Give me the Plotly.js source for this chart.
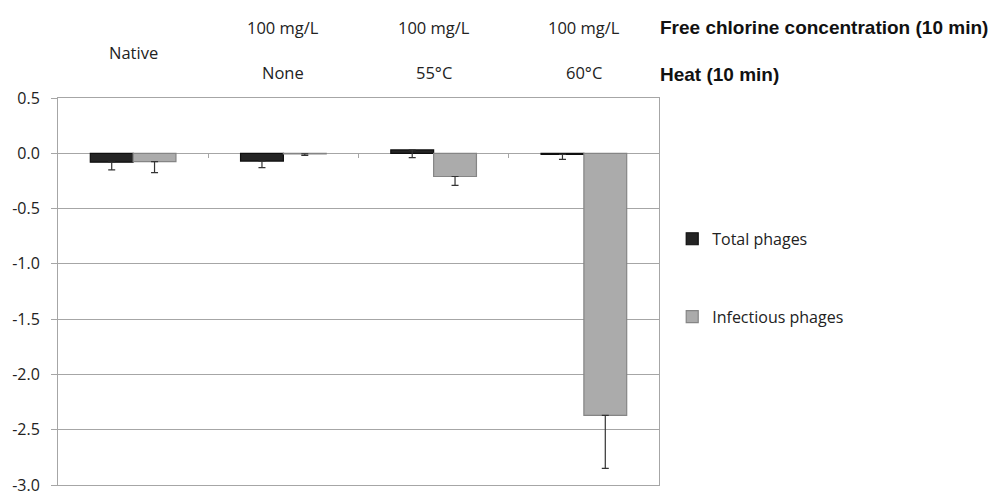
<!DOCTYPE html>
<html>
<head>
<meta charset="utf-8">
<script src="https://cdn.plot.ly/plotly-3.0.1.min.js"></script>
<style>html,body{margin:0;padding:0;background:#fff;}#chart{width:992px;height:495px;}</style>
</head>
<body>
<div id="chart"></div>
<script>
// Data
const categories = ["Native", "Chlorine 100 mg/L, no heat", "Chlorine 100 mg/L, 55°C", "Chlorine 100 mg/L, 60°C"];
const chlorineLabels = ["", "100 mg/L", "100 mg/L", "100 mg/L"];
const heatLabels = ["", "None", "55°C", "60°C"];
const topLabel = ["Native", "", "", ""];
const totalPhages = [-0.08, -0.07, 0.03, -0.01];
const totalErr = [0.07, 0.06, 0.07, 0.045];
const infectiousPhages = [-0.075, -0.005, -0.21, -2.37];
const infectiousErr = [0.10, 0.015, 0.08, 0.48];
const yTickVals = [0.5, 0.0, -0.5, -1.0, -1.5, -2.0, -2.5, -3.0];
const yTickText = ["0.5", "0.0", "-0.5", "-1.0", "-1.5", "-2.0", "-2.5", "-3.0"];
const boundaryTicks = [0.5, 1.5, 2.5];

const xIdx = categories.map((_, i) => i);
const zeros = categories.map(() => 0);
const font = "'Open Sans', 'Noto Sans', sans-serif";
const boldFont = "'Liberation Sans', Arial, sans-serif";

const traces = [
  {
    type: "bar", name: "Total phages", x: xIdx, y: totalPhages,
    marker: {color: "#242424", line: {color: "#0e0e0e", width: 1.2}},
    error_y: {type: "data", symmetric: false, array: zeros, arrayminus: totalErr, color: "#333", thickness: 1.2, width: 3.5},
    legendgroup: "a"
  },
  {
    type: "bar", name: "Infectious phages", x: xIdx, y: infectiousPhages,
    marker: {color: "#ababab", line: {color: "#858585", width: 1.2}},
    error_y: {type: "data", symmetric: false, array: zeros, arrayminus: infectiousErr, color: "#333", thickness: 1.2, width: 3.5},
    legendgroup: "b"
  }
];

const annotations = [];
const labFont = {family: font, size: 16.5, color: "#222"};
xIdx.forEach(i => {
  if (chlorineLabels[i]) annotations.push({xref: "x", yref: "paper", x: i, y: 1.181, text: chlorineLabels[i], showarrow: false, font: labFont, xanchor: "center", yanchor: "middle"});
  if (heatLabels[i]) annotations.push({xref: "x", yref: "paper", x: i, y: 1.066, text: heatLabels[i], showarrow: false, font: labFont, xanchor: "center", yanchor: "middle"});
  if (topLabel[i]) annotations.push({xref: "x", yref: "paper", x: i, y: 1.118, text: topLabel[i], showarrow: false, font: labFont, xanchor: "center", yanchor: "middle"});
});
annotations.push({xref: "paper", yref: "paper", x: 0.998, y: 1.181, text: "<b>Free chlorine concentration (10 min)</b>", showarrow: false, font: {family: boldFont, size: 19, color: "#111"}, xanchor: "left", yanchor: "middle"});
annotations.push({xref: "paper", yref: "paper", x: 0.998, y: 1.061, text: "<b>Heat (10 min)</b>", showarrow: false, font: {family: boldFont, size: 19, color: "#111"}, xanchor: "left", yanchor: "middle"});

const layout = {
  width: 992, height: 495,
  margin: {l: 58, r: 333, t: 98, b: 10},
  paper_bgcolor: "#fff", plot_bgcolor: "#fff",
  barmode: "group", bargap: 0.43, bargroupgap: 0,
  showlegend: true,
  legend: {x: 1.022, y: 0.68, xanchor: "left", yanchor: "top", font: {family: font, size: 16, color: "#222"}, tracegroupgap: 54, traceorder: "grouped", bgcolor: "rgba(0,0,0,0)"},
  xaxis: {range: [-0.5, 3.5], showticklabels: false, ticks: "", showgrid: false, zeroline: false, showline: true, mirror: true, linecolor: "#a6a6a6", linewidth: 1, fixedrange: true},
  xaxis2: {overlaying: "x", matches: "x", range: [-0.5, 3.5], anchor: "free", position: 3 / 3.5, side: "bottom", tickmode: "array", tickvals: boundaryTicks, ticks: "outside", ticklen: 4, tickcolor: "#a6a6a6", showticklabels: false, showgrid: false, zeroline: false, showline: false},
  // main y axis: labels pushed left with an invisible long tick
  yaxis: {range: [-3, 0.5], tickmode: "array", tickvals: yTickVals, ticktext: yTickText, ticks: "outside", ticklen: 14, tickcolor: "rgba(0,0,0,0)",
          ticklabeloverflow: "allow",
          showgrid: true, gridcolor: "#a6a6a6", gridwidth: 1, zeroline: true, zerolinecolor: "#a6a6a6", zerolinewidth: 1,
          showline: true, mirror: true, linecolor: "#a6a6a6", linewidth: 1, tickfont: {family: font, size: 16, color: "#222"}, fixedrange: true},
  // overlay y axis: the short visible tick marks
  yaxis2: {overlaying: "y", matches: "y", range: [-3, 0.5], side: "left", anchor: "x", tickmode: "array", tickvals: yTickVals, ticks: "outside", ticklen: 6, tickcolor: "#a6a6a6",
           showticklabels: false, showgrid: false, zeroline: false, showline: false, fixedrange: true},
  annotations: annotations
};

// invisible traces to activate the overlay axes
traces.push({type: "scatter", x: boundaryTicks, y: boundaryTicks.map(() => 0), xaxis: "x2", mode: "none", showlegend: false, hoverinfo: "skip"});
traces.push({type: "scatter", x: boundaryTicks, y: boundaryTicks.map(() => 0), yaxis: "y2", mode: "none", showlegend: false, hoverinfo: "skip"});

Plotly.newPlot("chart", traces, layout, {displayModeBar: false, staticPlot: true});
</script>
</body>
</html>
